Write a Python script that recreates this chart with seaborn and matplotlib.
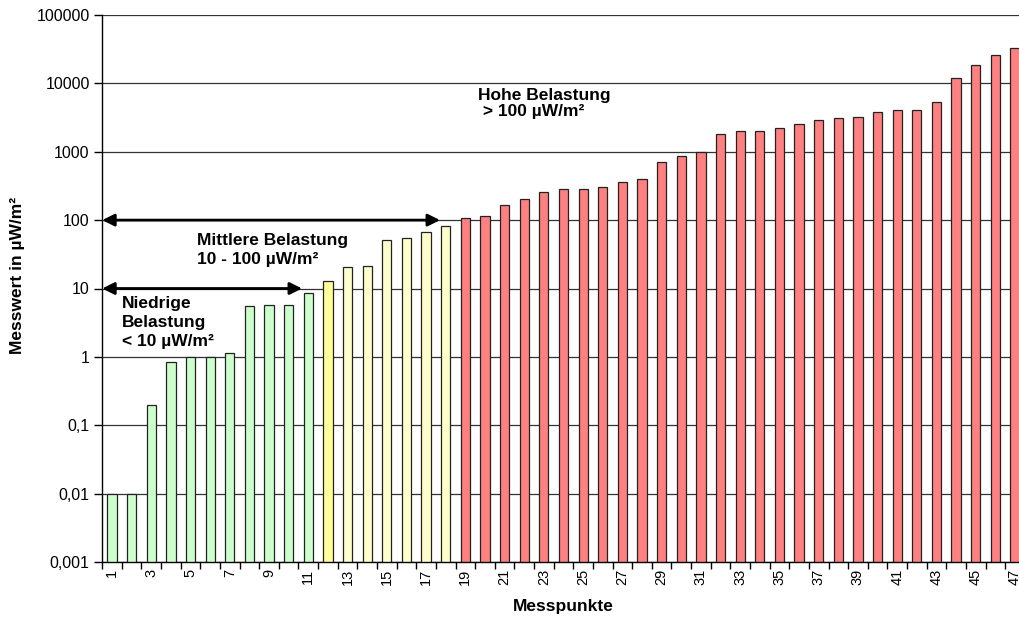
import numpy as np
import pandas as pd
import matplotlib
matplotlib.use("Agg")
import matplotlib.pyplot as plt
import seaborn as sns
from matplotlib.ticker import FixedLocator, NullLocator

messpunkte = [str(i) for i in range(1, 48)]
messwerte = [0.01, 0.01, 0.2, 0.83, 1.0, 1.0, 1.13, 5.5, 5.75, 5.75,
             8.5, 13, 20.5, 21, 52, 54, 66, 82, 108, 116,
             165, 202, 256, 283, 283, 305, 358, 405, 716, 877,
             1000, 1820, 2035, 2035, 2200, 2580, 2885, 3120, 3260, 3780,
             4085, 4085, 5345, 12000, 18400, 26300, 33000]
gruppe = (["niedrig"] * 11 + ["grenze"] + ["mittel"] * 6 + ["hoch"] * 29)
farben = {"niedrig": "#CCFFCC", "grenze": "#FFFF99",
          "mittel": "#FFFFCC", "hoch": "#FF8080"}

ytick_werte = [0.001, 0.01, 0.1, 1, 10, 100, 1000, 10000, 100000]
ytick_text = ["0,001", "0,01", "0,1", "1", "10", "100", "1000", "10000", "100000"]

df = pd.DataFrame({"Messpunkt": messpunkte, "Wert": messwerte, "Gruppe": gruppe})

sns.set_theme(style="white")
plt.rcParams["font.family"] = ["Liberation Sans", "DejaVu Sans"]
plt.rcParams["text.color"] = "black"
plt.rcParams["xtick.color"] = "black"
plt.rcParams["ytick.color"] = "black"
plt.rcParams["axes.labelcolor"] = "black"

fig = plt.figure(figsize=(10.2, 6.17), dpi=100)
ax = fig.add_axes([102.2 / 1020, 55 / 617, 922.6 / 1020, 547 / 617])
ax.set_yscale("log")

sns.barplot(data=df, x="Messpunkt", y="Wert", hue="Gruppe", palette=farben,
            dodge=False, width=0.47, saturation=1, edgecolor="#222222",
            linewidth=0.9, legend=False, ax=ax)

ax.set_ylim(0.001, 100000)
ax.set_xlim(-0.5, len(messpunkte) - 0.5)

# y-Achse
ax.yaxis.set_major_locator(FixedLocator(ytick_werte))
ax.yaxis.set_minor_locator(NullLocator())
ax.set_yticklabels(ytick_text, fontsize=11.5)
ax.tick_params(axis="y", which="major", left=True, length=6, width=1,
               direction="out", pad=3)
ax.yaxis.grid(True, color="#333333", linewidth=0.9)
ax.set_axisbelow(True)

# x-Achse: Striche zwischen den Balken, nur jede zweite Zahl
pos = np.arange(len(messpunkte))
ax.set_xticks(pos)
ax.set_xticklabels([m if i % 2 == 0 else "" for i, m in enumerate(messpunkte)],
                   rotation=90, fontsize=10.5)
ax.tick_params(axis="x", which="major", bottom=True, length=0, pad=5)
ax.set_xticks(np.arange(-0.5, len(messpunkte)), minor=True)
ax.tick_params(axis="x", which="minor", bottom=True, length=5, width=1,
               direction="out")

for s in ["top", "right"]:
    ax.spines[s].set_visible(False)
for s in ["left", "bottom"]:
    ax.spines[s].set_color("black")
    ax.spines[s].set_linewidth(1)

ax.set_xlabel("")
ax.set_ylabel("")
fig.text(18 / 1020, 1 - 275 / 617, "Messwert in µW/m²", rotation=90,
         fontsize=12.5, fontweight="bold", ha="center", va="center")
fig.text(563 / 1020, 1 - 606 / 617, "Messpunkte", fontsize=12.5,
         fontweight="bold", ha="center", va="center")

# Pfeile für die Belastungsbereiche
pfeil = dict(arrowstyle="<|-|>", color="black", lw=2, shrinkA=0, shrinkB=0,
             mutation_scale=18)
ax.annotate("", xy=(16.71, 100), xytext=(-0.5, 100), arrowprops=pfeil,
            annotation_clip=False)
ax.annotate("", xy=(9.68, 10), xytext=(-0.5, 10), arrowprops=pfeil,
            annotation_clip=False)

ax.text(18.64, 5100, "Hohe Belastung\n > 100 µW/m²", fontsize=12.5,
        fontweight="bold", ha="left", va="center", linespacing=1.05)
ax.text(4.33, 36.2, "Mittlere Belastung\n10 - 100 µW/m²", fontsize=12.5,
        fontweight="bold", ha="left", va="center", linespacing=1.35)
ax.text(0.51, 3.2, "Niedrige\nBelastung\n< 10 µW/m²", fontsize=12.5,
        fontweight="bold", ha="left", va="center", linespacing=1.35)

fig.savefig("out.png", dpi=100)
